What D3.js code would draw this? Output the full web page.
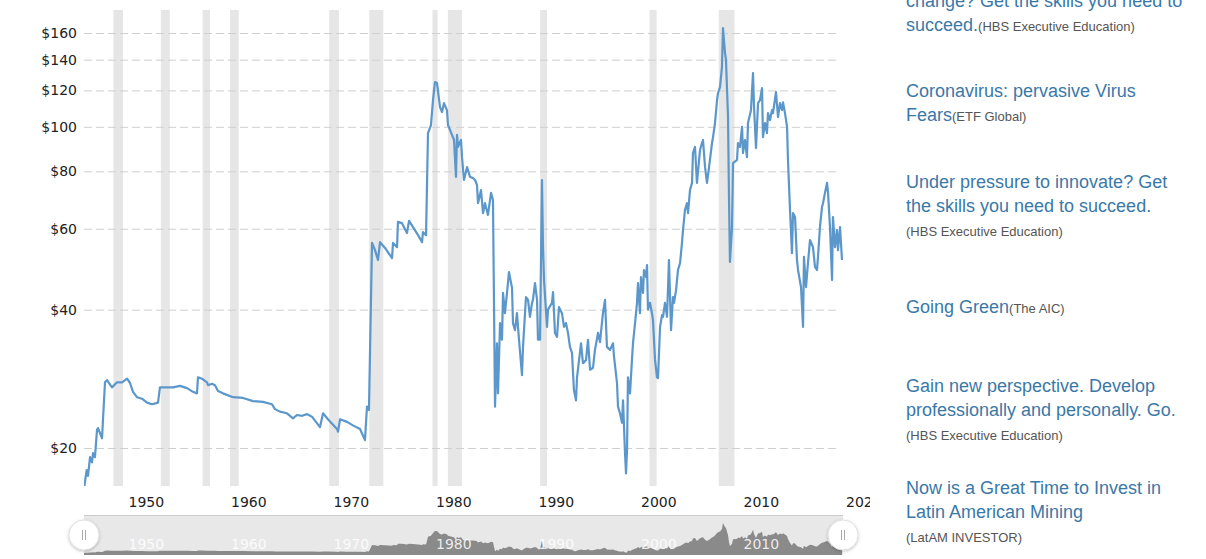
<!DOCTYPE html>
<html><head><meta charset="utf-8">
<script src="https://cdn.jsdelivr.net/npm/d3@7"></script>
<style>
body{margin:0;background:#fff;overflow:hidden;}
svg{display:block;}
</style></head><body>
<svg id="c" width="1206" height="559"></svg>
<script>
const years=[1946.00,1946.26,1946.39,1946.59,1946.78,1946.88,1947.07,1947.27,1947.37,1947.76,1947.85,1948.05,1948.24,1948.73,1949.22,1949.71,1950.20,1950.49,1950.78,1951.17,1951.66,1952.15,1952.63,1953.22,1953.41,1954.10,1954.68,1955.37,1956.05,1956.63,1957.02,1957.12,1957.51,1958.00,1958.10,1958.49,1958.78,1959.07,1959.56,1960.54,1961.51,1962.49,1963.46,1964.34,1964.63,1965.12,1965.80,1966.39,1966.78,1967.27,1967.76,1968.24,1969.02,1969.32,1969.80,1970.68,1970.78,1970.98,1971.66,1972.24,1972.93,1973.41,1973.61,1973.80,1974.10,1974.39,1974.68,1974.88,1975.37,1976.05,1976.15,1976.54,1976.63,1977.02,1977.51,1977.71,1978.10,1978.59,1978.98,1979.07,1979.37,1979.56,1979.85,1980.05,1980.24,1980.44,1980.73,1980.93,1981.12,1981.41,1981.51,1981.90,1982.10,1982.29,1982.39,1982.49,1982.78,1982.88,1983.07,1983.37,1983.66,1983.95,1984.15,1984.34,1984.44,1984.73,1984.93,1985.12,1985.41,1985.71,1985.90,1986.10,1986.29,1986.39,1986.59,1986.78,1986.88,1987.07,1987.27,1987.46,1987.76,1987.85,1988.05,1988.24,1988.44,1988.73,1988.83,1989.12,1989.32,1989.51,1989.71,1989.80,1990.00,1990.20,1990.29,1990.49,1990.68,1990.78,1990.88,1991.17,1991.27,1991.66,1991.76,1991.95,1992.15,1992.34,1992.63,1992.83,1993.02,1993.22,1993.41,1993.61,1993.80,1994.00,1994.10,1994.49,1994.68,1994.98,1995.17,1995.37,1995.66,1995.85,1996.15,1996.34,1996.63,1996.83,1997.02,1997.32,1997.61,1997.71,1998.00,1998.10,1998.29,1998.49,1998.59,1998.78,1998.88,1998.98,1999.07,1999.27,1999.46,1999.56,1999.76,1999.95,2000.05,2000.24,2000.34,2000.54,2000.63,2000.83,2000.93,2001.02,2001.22,2001.41,2001.51,2001.71,2001.90,2002.00,2002.20,2002.39,2002.49,2002.68,2002.88,2003.07,2003.27,2003.46,2003.56,2003.76,2003.95,2004.15,2004.34,2004.44,2004.63,2004.83,2004.93,2005.12,2005.32,2005.41,2005.61,2005.80,2006.10,2006.29,2006.39,2006.59,2006.78,2006.98,2007.27,2007.37,2007.56,2007.76,2007.85,2008.05,2008.24,2008.34,2008.54,2008.63,2008.83,2008.93,2009.02,2009.22,2009.32,2009.71,2009.80,2010.00,2010.20,2010.29,2010.49,2010.68,2010.78,2011.07,2011.27,2011.37,2011.56,2011.76,2011.95,2012.15,2012.24,2012.44,2012.63,2012.73,2012.93,2013.12,2013.22,2013.51,2013.71,2013.90,2014.10,2014.20,2014.39,2014.59,2014.68,2014.88,2015.07,2015.17,2015.37,2015.56,2015.66,2015.95,2016.15,2016.24,2016.44,2016.63,2016.83,2017.12,2017.32,2017.51,2017.61,2017.80,2018.00,2018.10,2018.29,2018.49,2018.59,2018.78,2018.98,2019.07,2019.27,2019.46,2019.56,2019.76,2019.95];
const prices=[16.3,17.9,17.4,19.1,18.6,19.5,19.1,21.9,22.1,21.0,23.0,27.8,28.1,27.1,27.8,27.8,28.3,27.7,26.5,25.8,25.6,25.1,24.9,25.1,27.1,27.1,27.1,27.3,27.0,26.5,26.3,28.5,28.3,27.8,27.4,27.6,27.4,26.6,26.3,25.8,25.7,25.3,25.2,24.9,24.3,24.0,23.8,23.2,23.6,23.5,23.7,23.4,22.2,23.8,23.1,22.0,21.7,23.1,22.8,22.4,22.0,20.8,24.6,24.2,55.9,53.9,51.3,56.1,54.5,51.8,55.9,54.7,62.1,61.7,58.7,62.4,60.5,58.1,56.1,59.0,58.1,96.9,100.9,114.3,125.1,124.5,110.4,107.7,112.6,108.7,100.9,96.0,93.6,77.8,96.0,90.4,93.6,85.9,76.6,81.7,77.8,77.4,76.6,74.7,68.2,72.8,64.9,68.2,64.3,71.8,69.3,24.6,33.8,26.3,37.4,34.4,43.5,39.3,43.5,48.3,44.6,37.4,36.1,39.3,34.4,28.8,33.2,42.6,42.0,38.6,41.4,42.0,45.7,42.0,34.4,34.4,76.6,54.7,46.4,36.7,40.0,41.4,43.7,35.6,34.9,40.5,39.3,36.7,37.4,35.6,33.2,32.2,26.7,25.4,28.5,33.8,30.6,31.1,34.4,29.6,29.9,32.7,35.6,34.0,39.3,42.0,33.2,32.7,33.8,31.6,27.7,24.6,23.8,22.7,25.4,19.5,17.6,19.8,28.5,26.3,31.1,33.8,37.4,41.4,45.7,39.3,47.1,43.5,48.8,47.1,50.0,40.0,41.4,39.3,38.0,31.1,28.5,28.4,36.7,38.9,38.6,41.4,38.6,51.3,36.1,42.6,41.4,44.1,48.8,50.5,55.9,59.6,65.9,68.2,64.9,72.8,75.5,87.7,90.4,75.5,89.0,92.2,93.6,81.7,75.5,81.7,92.2,95.0,101.9,114.3,118.4,122.0,134.9,164.0,144.7,140.0,105.3,69.3,50.8,60.5,83.4,84.7,92.2,90.4,100.0,87.7,93.6,85.9,101.9,108.7,130.9,110.4,89.9,112.6,114.3,121.4,95.0,101.9,96.9,107.1,103.4,108.7,107.1,119.0,105.0,112.6,108.7,113.0,107.1,100.0,84.7,65.9,53.1,64.9,63.6,51.3,48.8,44.8,36.7,52.1,44.8,50.5,56.7,54.7,49.5,48.8,52.1,60.5,66.9,68.2,71.8,75.5,71.8,60.5,46.4,63.6,54.7,59.6,53.9,60.5,51.3];
const recessionStart=[1948.87,1953.5,1957.58,1960.25,1969.92,1973.83,1980.0,1981.5,1990.5,2001.17,2007.92];
const recessionEnd=[1949.8,1954.37,1958.29,1961.1,1970.87,1975.2,1980.5,1982.87,1991.17,2001.87,2009.46];
const yTicks=[20,40,60,80,100,120,140,160];
const xTicks=[1950,1960,1970,1980,1990,2000,2010,2020];
const adTitles=[
 ["change? Get the skills you need to","succeed."],
 ["Coronavirus: pervasive Virus","Fears"],
 ["Under pressure to innovate? Get","the skills you need to succeed."],
 ["Going Green"],
 ["Gain new perspective. Develop","professionally and personally. Go."],
 ["Now is a Great Time to Invest in","Latin American Mining"]
];
const adSources=["(HBS Executive Education)","(ETF Global)","(HBS Executive Education)","(The AIC)","(HBS Executive Education)","(LatAM INVESTOR)"];
const adSourceInline=[true,true,false,true,false,false];
const adTop=[7,97,188,313,392,494];

const data=years.map((t,i)=>({t,v:prices[i]}));
const svg=d3.select("#c");
const L=84,R=843,T=10,B=486;
const x=d3.scaleLinear().domain([1950,2010]).range([125,740]);
const y=d3.scaleLog().domain([20,160]).range([448,33]);
const font="'DejaVu Sans', Verdana, sans-serif";

const defs=svg.append("defs");
defs.append("clipPath").attr("id","plot").append("rect").attr("x",L).attr("y",T).attr("width",R-L).attr("height",B-T);
defs.append("clipPath").attr("id","chartArea").append("rect").attr("x",0).attr("y",0).attr("width",870).attr("height",559);
const f=defs.append("filter").attr("id","sh").attr("x","-50%").attr("y","-50%").attr("width","200%").attr("height","200%");
f.append("feDropShadow").attr("dx",0).attr("dy",1).attr("stdDeviation",1.5).attr("flood-color","#000").attr("flood-opacity",0.25);

const chart=svg.append("g").attr("clip-path","url(#chartArea)");

// recession bands
chart.append("g").selectAll("rect").data(recessionStart).join("rect")
 .attr("x",(d)=>x(d)).attr("width",(d,i)=>x(recessionEnd[i])-x(d))
 .attr("y",T).attr("height",B-T).attr("fill","#e6e6e6");

// grid + y labels
const ya=chart.append("g").attr("transform",`translate(${L},0)`)
 .call(d3.axisLeft(y).tickValues(yTicks).tickFormat(d=>"$"+d).tickSize(-(840-L)).tickPadding(7));
ya.select(".domain").remove();
ya.selectAll(".tick line").attr("stroke","#cfcfcf").attr("stroke-dasharray","8,4");
ya.selectAll(".tick text").attr("font-family",font).attr("font-size",14).attr("fill","#222");

// line
chart.append("path").datum(data).attr("clip-path","url(#plot)")
 .attr("fill","none").attr("stroke","#5b97ca").attr("stroke-width",2.2).attr("stroke-linejoin","round")
 .attr("d",d3.line().x(d=>x(d.t)).y(d=>y(d.v)));

// x axis
const xa=chart.append("g").attr("transform",`translate(0,${B})`)
 .call(d3.axisBottom(x).tickValues(xTicks).tickFormat(d3.format("d")).tickSize(0).tickPadding(0));
xa.select(".domain").remove();
xa.selectAll(".tick text").attr("font-family",font).attr("font-size",14).attr("fill","#222")
 .attr("text-anchor","start").attr("x",3).attr("y",21).attr("dy",0);

// navigator
const NT=515,NB=555;
const ny=d3.scaleLinear().domain(d3.extent(prices)).range([553,523]);
const nav=chart.append("g");
nav.append("rect").attr("x",L).attr("y",NT).attr("width",R-L).attr("height",NB-NT).attr("fill","#e8e8e8");
nav.append("line").attr("x1",L).attr("x2",R).attr("y1",NT+0.5).attr("y2",NT+0.5).attr("stroke","#cccccc");
const nxa=nav.append("g").attr("transform",`translate(0,${NT})`)
 .call(d3.axisBottom(x).tickValues(xTicks.filter(d=>d<2020)).tickFormat(d3.format("d")).tickSize(44).tickPadding(0));
nxa.select(".domain").remove();
nxa.selectAll(".tick line").attr("stroke","#ffffff").attr("stroke-width",1);
nav.append("path").datum(data).attr("fill","#8a8a8a")
 .attr("d",d3.area().x(d=>x(d.t)).y0(NB).y1(d=>ny(d.v)));
nxa.raise();
nxa.selectAll(".tick line").remove();
nxa.selectAll(".tick text").attr("font-family",font).attr("font-size",14).attr("fill","#ffffff").attr("fill-opacity",0.85)
 .attr("text-anchor","start").attr("x",3).attr("y",34).attr("dy",0);
[L,R].forEach(cx=>{
 const h=nav.append("g");
 h.append("circle").attr("cx",cx).attr("cy",535).attr("r",15).attr("fill","#fff").attr("stroke","#e0e0e0").attr("filter","url(#sh)");
 [-1.5,1.5].forEach(o=>h.append("line").attr("x1",cx+o).attr("x2",cx+o).attr("y1",530).attr("y2",540).attr("stroke","#aaaaaa").attr("stroke-width",1));
});

// ads
const ads=svg.append("g").attr("font-family","'Liberation Sans', Arial, sans-serif");
adTitles.forEach((lines,i)=>{
 let yy=adTop[i];
 lines.forEach((ln,j)=>{
  const t=ads.append("text").attr("x",906).attr("y",yy).attr("font-size",18).attr("fill","#3a78a8").text(ln);
  if(j===lines.length-1 && adSourceInline[i]){
   t.append("tspan").attr("font-size",13).attr("fill","#555").text(adSources[i]);
  }
  yy+=24;
 });
 if(!adSourceInline[i]){
  ads.append("text").attr("x",906).attr("y",yy).attr("font-size",13).attr("fill","#555").text(adSources[i]);
 }
});
</script>
</body></html>
